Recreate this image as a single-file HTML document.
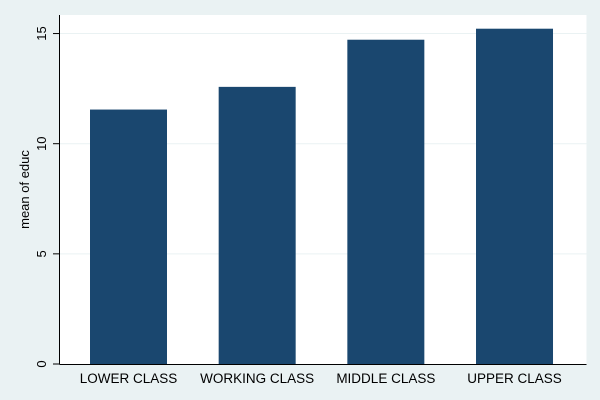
<!DOCTYPE html>
<html><head><style>
body{margin:0;background:#eaf2f3;}
svg{display:block;font-family:"Liberation Sans",Arial,sans-serif;}
</style></head><body>
<svg id="chart" width="600" height="400">
<rect x="0" y="0" width="600" height="400" fill="#eaf2f3"/>
<rect x="59.5" y="15" width="527" height="349" fill="#ffffff"/>
<g id="grid"></g><g id="bars"></g><g id="axes"></g>
</svg>
<script>
const categories=["LOWER CLASS","WORKING CLASS","MIDDLE CLASS","UPPER CLASS"];
const values=[11.55,12.58,14.72,15.22];
const yTicks=[0,5,10,15];
const NS="http://www.w3.org/2000/svg";
const x0=59.5,plotW=527,y0=364,pxPerUnit=22.03;
const y=v=>y0-v*pxPerUnit;
const step=128.67;
const barW=77;
const cx=i=>x0+69+step*i;
function mk(tag,attrs,parent){const e=document.createElementNS(NS,tag);for(const k in attrs)e.setAttribute(k,attrs[k]);document.getElementById(parent).appendChild(e);return e;}
yTicks.forEach(t=>{
  if(t>0){const g=mk('line',{x1:x0,x2:x0+plotW,y1:y(t),y2:y(t),stroke:'#eaf2f3','stroke-width':1},'grid');
  
  }
  const tk=mk('line',{x1:53,x2:x0,y1:y(t),y2:y(t),stroke:'#000','stroke-width':1},'axes');
  
  
  const tx=mk('text',{x:0,y:0,'font-size':13,'text-anchor':'middle',transform:`translate(46,${y(t)}) rotate(-90)`},'axes');
  tx.textContent=t;
  
  
});
values.forEach((v,i)=>{
  const r=mk('rect',{x:cx(i)-barW/2,y:y(v),width:barW,height:y0-y(v),fill:'#1a476f'},'bars');
  
  
  const t=mk('text',{x:cx(i),y:383,'font-size':13.5,'text-anchor':'middle',fill:'#000'},'axes');
  t.textContent=categories[i];
  
  
});
const ax=mk('line',{x1:x0,x2:x0,y1:15,y2:y0,stroke:'#000','stroke-width':1},'axes');


const bx=mk('line',{x1:x0,x2:x0+plotW,y1:y0+0.5,y2:y0+0.5,stroke:'#000','stroke-width':1},'axes');


const yt=mk('text',{x:0,y:0,'font-size':13,'text-anchor':'middle',transform:'translate(29,189.5) rotate(-90)'},'axes');
yt.textContent='mean of educ';


</script>
</body></html>
